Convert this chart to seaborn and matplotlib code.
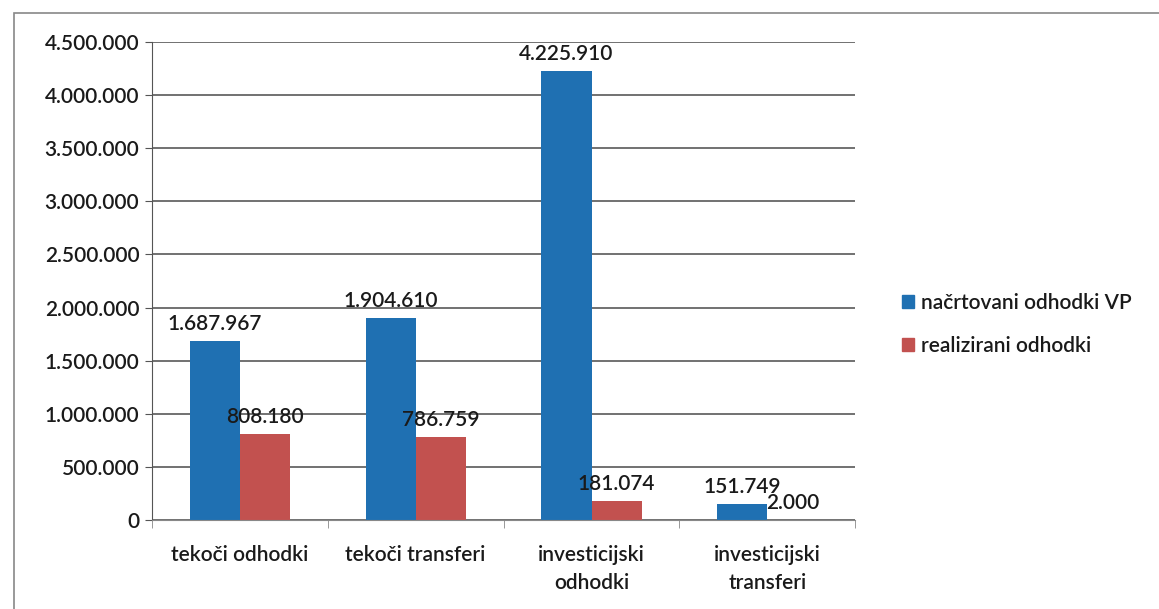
import pandas as pd
import matplotlib.pyplot as plt
import seaborn as sns
from matplotlib.patches import Rectangle

# ── podatki ─────────────────────────────────────────────────────────────
kategorije = ['tekoči odhodki', 'tekoči transferi',
              'investicijski\nodhodki', 'investicijski\ntransferi']
nacrtovani = [1687967, 1904610, 4225910, 151749]
realizirani = [808180, 786759, 181074, 2000]
serije = ['načrtovani odhodki VP', 'realizirani odhodki']
barve = ['#1f70b2', '#c2514f']

df = pd.DataFrame({
    'kategorija': kategorije * 2,
    'vrednost': nacrtovani + realizirani,
    'serija': [serije[0]] * 4 + [serije[1]] * 4,
})

sns.set_style('white')
plt.rcParams['font.family'] = ['Lato', 'DejaVu Sans']
plt.rcParams['font.weight'] = 'semibold'

fig = plt.figure(figsize=(11.59, 6.09), dpi=100)
ax = fig.add_axes([0.131, 0.146, 0.607, 0.785])

# okvir okoli grafa
fig.patches.append(Rectangle((0.012, -0.01), 1.0, 0.989, transform=fig.transFigure,
                             fill=False, edgecolor='#888888', linewidth=1.2))

sns.barplot(data=df, x='kategorija', y='vrednost', hue='serija',
            palette=barve, width=0.57, gap=0, saturation=1,
            linewidth=0, ax=ax)

fmt = lambda v: f'{v:,.0f}'.replace(',', '.')
for cont in ax.containers:
    ax.bar_label(cont, labels=[fmt(v) for v in cont.datavalues],
                 padding=5, fontsize=15, color='#1a1a1a')

ax.set_ylim(0, 4500000)
ax.set_xlim(-0.5, 3.5)
ax.set_yticks(range(0, 4500001, 500000))
ax.set_yticklabels([fmt(v) for v in range(0, 4500001, 500000)])
ax.yaxis.grid(True, color='#4a4a4a', linewidth=1.1)
ax.set_axisbelow(True)
ax.set_xlabel('')
ax.set_ylabel('')

for s in ['top', 'right']:
    ax.spines[s].set_visible(False)
ax.spines['left'].set_color('#555555')
ax.spines['bottom'].set_color('#888888')

ax.tick_params(axis='y', labelsize=15, length=5, color='#555555',
               left=True, pad=4, labelcolor='#1a1a1a')
ax.tick_params(axis='x', labelsize=15, length=0, pad=18, labelcolor='#1a1a1a')
ax.set_xticks([0, 1, 2, 3])
ax.set_xticklabels(kategorije, linespacing=1.5)
# oznake med kategorijami
ax.set_xticks([-0.5, 0.5, 1.5, 2.5, 3.5], minor=True)
ax.tick_params(axis='x', which='minor', bottom=True, length=6, color='#888888')

ax.get_legend().remove()
handles = [plt.Rectangle((0, 0), 1, 1, color=c) for c in barve]
fig.legend(handles, serije, loc='upper left', bbox_to_anchor=(0.762, 0.55),
           frameon=False, fontsize=15, handlelength=0.6, handleheight=0.6,
           handletextpad=0.3, labelspacing=1.1, labelcolor='#1a1a1a')

plt.savefig('out.png', dpi=100)
